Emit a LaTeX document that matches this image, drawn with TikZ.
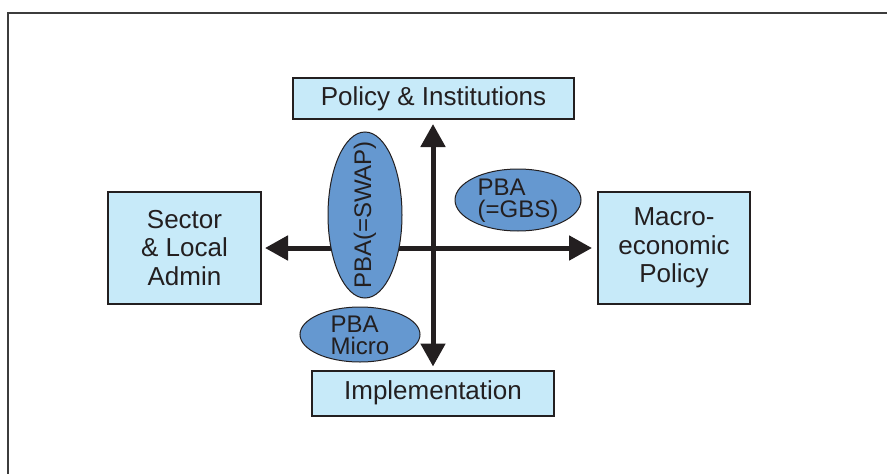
\documentclass[tikz,border=0pt]{standalone}
\usepackage{fontspec}
\setmainfont{Liberation Sans}
\usetikzlibrary{arrows.meta,shapes.geometric}
\definecolor{boxfill}{HTML}{C7EAF9}
\definecolor{ellfill}{HTML}{6598D0}
\definecolor{ink}{HTML}{231F20}
\definecolor{framegray}{HTML}{3C3C3C}
\tikzset{
  boxnode/.style={draw=ink,line width=2pt,fill=boxfill,inner sep=0pt,text=ink,
    font=\fontsize{26}{28.5}\selectfont,align=center},
  ellnode/.style={ellipse,draw=ink,line width=1pt,fill=ellfill,inner sep=0pt},
  elltext/.style={inner sep=0pt,text=ink,font=\fontsize{24}{22}\selectfont},
  arr/.style={draw=ink,line width=5pt,-{Triangle[length=23pt,width=24pt]}}
}
\begin{document}
\begin{tikzpicture}[x=1pt,y=-1pt]
\useasboundingbox (0,0) rectangle (887,474);
\draw[framegray,line width=2pt] (8,474) coordinate (fa) -- (8,13) coordinate (fb) -- (887,13) coordinate (fc);
\node[boxnode,minimum width=281pt,minimum height=41pt] (pol) at (433.5,98.5) {Policy \& Institutions};
\node[boxnode,minimum width=153pt,minimum height=112pt] (sec) at (184.5,248) {Sector\\\& Local\\Admin};
\node[boxnode,minimum width=152pt,minimum height=112pt] (mac) at (674,248) {Macro-\\economic\\Policy};
\node[boxnode,minimum width=242pt,minimum height=45pt] (imp) at (433,393) {Implementation};
\coordinate (c) at (433,248);
\draw[arr,shorten >=4pt] (c) -- (c |- pol.south);
\draw[arr,shorten >=3pt] (c) -- (c |- imp.north);
\draw[arr,shorten >=3pt] (c) -- (c -| sec.east);
\draw[arr,shorten >=5pt] (c) -- (c -| mac.west);
\node[ellnode,minimum width=74pt,minimum height=166pt] (swap) at (365,215) {};
\node[elltext,rotate=90] (swapt) at (swap.center) {PBA(=SWAP)};
\node[ellnode,minimum width=126pt,minimum height=62pt] (gbs) at (518,200) {};
\node[elltext,align=left] (gbst) at ([yshift=-1pt]gbs.center) {PBA\\(=GBS)};
\node[ellnode,minimum width=120pt,minimum height=55pt] (micro) at (360,334.5) {};
\node[elltext,align=left] (microt) at ([yshift=-1pt]micro.center) {PBA\\Micro};
\end{tikzpicture}
\end{document}
